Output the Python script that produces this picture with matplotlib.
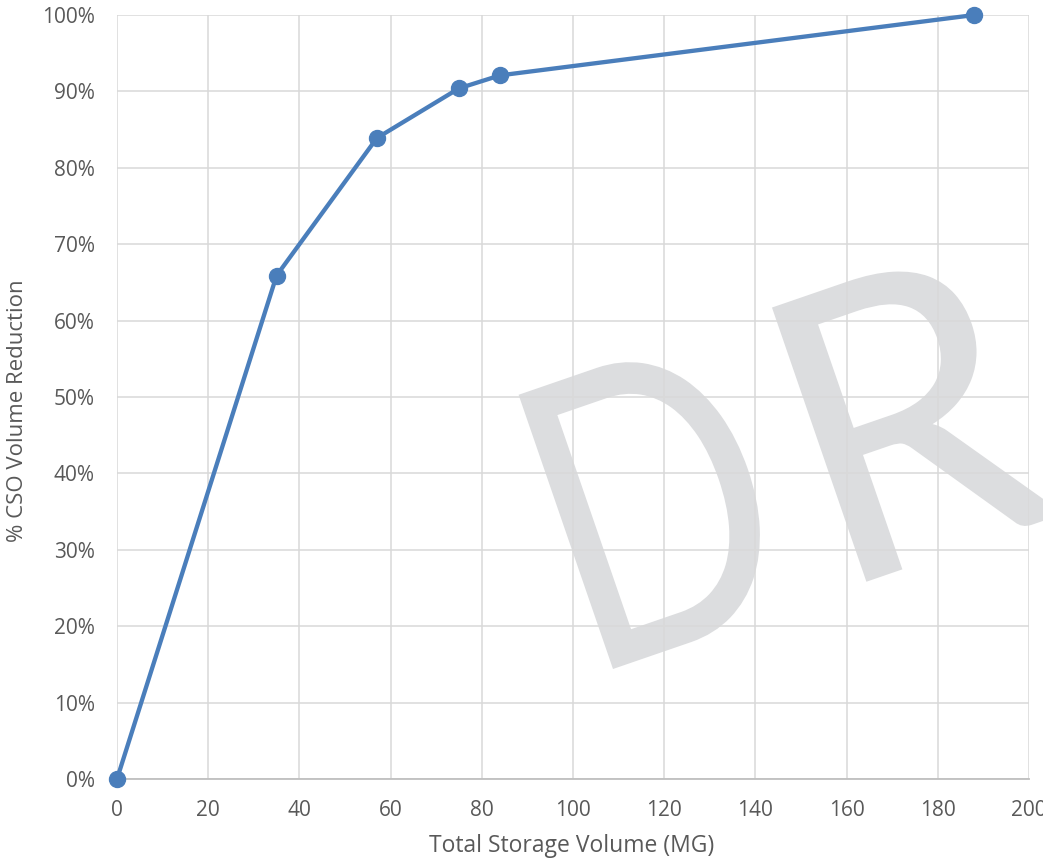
import matplotlib
matplotlib.use("Agg")
import matplotlib.pyplot as plt
from matplotlib.ticker import FuncFormatter
from matplotlib.textpath import TextPath
from matplotlib.patches import PathPatch
from matplotlib.font_manager import FontProperties
from matplotlib.transforms import Affine2D, IdentityTransform

storage_mg = [0, 35, 57, 75, 84, 188]
reduction_pct = [0, 65.9, 83.9, 90.4, 92.1, 100]
x_ticks = [0, 20, 40, 60, 80, 100, 120, 140, 160, 180, 200]
y_ticks = [0, 10, 20, 30, 40, 50, 60, 70, 80, 90, 100]
watermark = 'DRAFT'

plt.rcParams['font.family'] = ['Open Sans', 'DejaVu Sans']
W, H = 1043, 864
fig = plt.figure(figsize=(W/100, H/100), dpi=100)
ax = fig.add_axes([117/W, 1-779/H, (1029-117)/W, (779-15)/H])

ax.plot(storage_mg, reduction_pct, color='#4a7ebb', lw=3.1, marker='o', ms=11.5,
        zorder=3, clip_on=False)

ax.set_xlim(0, 200)
ax.set_ylim(0, 100)
ax.set_xticks(x_ticks)
ax.set_yticks(y_ticks)
ax.yaxis.set_major_formatter(FuncFormatter(lambda v, p: f"{v:.0f}%"))
ax.grid(True, color='#d9d9d9', lw=1.1)
ax.set_axisbelow(True)
for s in ['top', 'right', 'left']:
    ax.spines[s].set_visible(False)
ax.spines['bottom'].set_color('#bfbfbf')
ax.spines['bottom'].set_linewidth(1.3)
ax.tick_params(length=0, labelsize=15, labelcolor='#595959')
ax.tick_params(axis='x', pad=15)
ax.tick_params(axis='y', pad=16)
ax.set_xlabel('Total Storage Volume (MG)', fontsize=16.5, color='#595959', va='center')
ax.set_ylabel('% CSO Volume Reduction', fontsize=16, color='#595959', va='center')
ax.xaxis.set_label_coords((572-117)/912, (779-846)/764)
ax.yaxis.set_label_coords((18-117)/912, (779-411)/764)

# watermark, letter by letter (Calibri-like proportions approximated with Lato)
fp = FontProperties(family='Lato')
extD = TextPath((0, 0), 'D', size=100, prop=fp).get_extents()
extR = TextPath((0, 0), 'R', size=100, prop=fp).get_extents()
extDR = TextPath((0, 0), 'DR', size=100, prop=fp).get_extents()
advD = extDR.x1 - extR.x1
sy = 290.0 / (extD.y1 - extD.y0)
sx = 268.0 / (advD + extR.x0 - extD.x0)
letter_scale = {'D': 0.88, 'R': 1.12}
offset = 0.0
base = Affine2D().rotate_deg(19).translate(613, H - 669)
for i, ch in enumerate(watermark):
    p = TextPath((0, 0), ch, size=100, prop=fp)
    e = p.get_extents()
    k = letter_scale.get(ch, 1.0) * sx
    tr = Affine2D().translate(-e.x0, 0).scale(k, sy).translate(offset, 0) + base
    ax.add_artist(PathPatch(tr.transform_path(p), transform=IdentityTransform(),
                            facecolor='#dcdddf', edgecolor='none', zorder=0.1,
                            clip_on=False))
    if ch == 'D':
        offset = 268.0
    else:
        offset += (e.x1 - e.x0) * k + 40
fig.savefig('out.png', dpi=100)
